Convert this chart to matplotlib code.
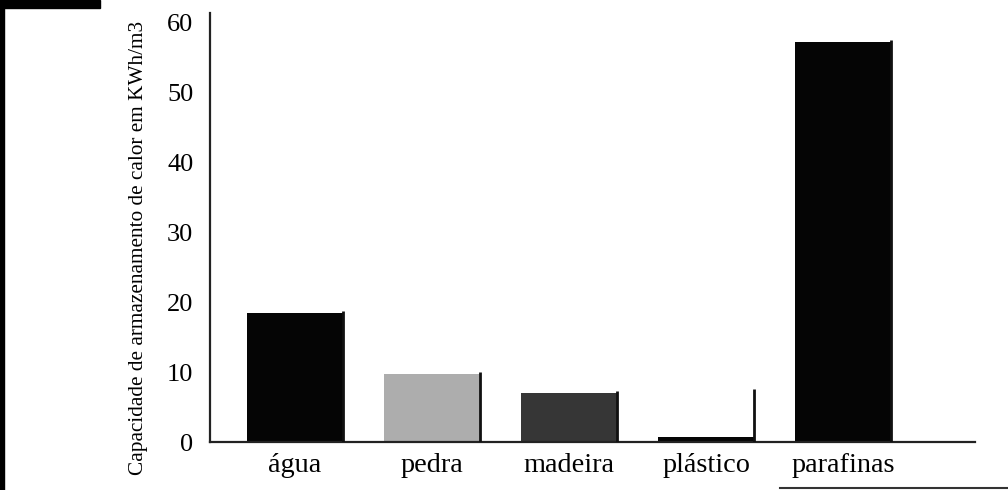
import matplotlib
matplotlib.use("Agg")
import matplotlib.pyplot as plt
from matplotlib.lines import Line2D
from matplotlib.patches import Rectangle

categories = ["água", "pedra", "madeira", "plástico", "parafinas"]
values = [18.4, 9.7, 7.0, 0.7, 57.1]
edge_tops = [18.7, 10.0, 7.3, 7.6, 57.4]
bar_colors = ["#050505", "#adadad", "#363636", "#050505", "#050505"]
yticks = [0, 10, 20, 30, 40, 50, 60]
ylabel = "Capacidade de armazenamento de calor em KWh/m3"

plt.rcParams['font.family'] = ['Liberation Serif', 'DejaVu Serif']

fig = plt.figure(figsize=(10.08, 4.90), dpi=100)
ax = fig.add_axes([210/1008, 1-442/490, (975-210)/1008, (442-13)/490])

x = list(range(len(categories)))
width = 0.70
ax.bar(x, values, width=width, color=bar_colors, edgecolor="none", zorder=2)
for xi, top in zip(x, edge_tops):
    ax.plot([xi + width/2, xi + width/2], [0, top], color="#111111", lw=2.0, zorder=3,
            solid_capstyle="butt")

ax.set_xlim(-(295-210)/137, (975-295)/137)
ax.set_ylim(0, 61.3)
ax.set_yticks(yticks)
ax.set_yticklabels([str(v) for v in yticks], fontsize=19)
ax.set_xticks(x)
ax.set_xticklabels(categories, fontsize=20.3)
ax.tick_params(axis="both", length=0)
ax.tick_params(axis="y", pad=12)
ax.tick_params(axis="x", pad=8)
for s in ["top", "right"]:
    ax.spines[s].set_visible(False)
ax.spines["left"].set_linewidth(1.6)
ax.spines["bottom"].set_linewidth(1.6)
ax.spines["left"].set_color("#222222")
ax.spines["bottom"].set_color("#222222")

fig.text(138/1008, 1-248/490, ylabel, rotation=90, ha="center", va="center",
         fontsize=15.3)

# scan border decorations
fig.patches.append(Rectangle((0, 0), 4/1008, 1, transform=fig.transFigure,
                             color="black", zorder=5))
fig.patches.append(Rectangle((0, 1-8/490), 100/1008, 8/490, transform=fig.transFigure,
                             color="black", zorder=5))
fig.lines.append(Line2D([780/1008, 1], [1-488/490, 1-488/490], transform=fig.transFigure,
                        color="#333333", lw=1.5))

fig.savefig("out.png", dpi=100)
